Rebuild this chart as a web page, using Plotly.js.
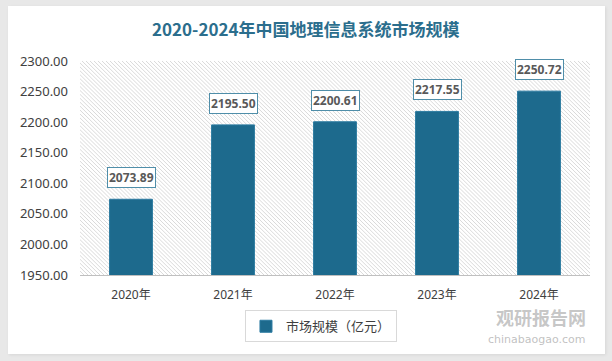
<!DOCTYPE html>
<html>
<head>
<meta charset="utf-8">
<script src="https://cdn.plot.ly/plotly-3.0.1.min.js"></script>
<style>html,body{margin:0;padding:0;background:#e8e8e8;width:612px;height:361px;overflow:hidden;}
#card{position:absolute;left:8px;top:6px;width:597px;height:348px;background:#fff;box-shadow:1px 1px 3px rgba(0,0,0,0.08);}
#chart{width:597px;height:348px;}</style>
</head>
<body>
<div id="card"><div id="chart"></div></div>
<script>
var categories = ['2020年', '2021年', '2022年', '2023年', '2024年'];
var values = [2073.89, 2195.50, 2200.61, 2217.55, 2250.72];
var labels = ['2073.89', '2195.50', '2200.61', '2217.55', '2250.72'];
var seriesName = '市场规模（亿元）';
var yTicks = [1950, 2000, 2050, 2100, 2150, 2200, 2250, 2300];
var yTickText = ['1950.00', '2000.00', '2050.00', '2100.00', '2150.00', '2200.00', '2250.00', '2300.00'];

var W = 510, H = 218;
var lines = '';
for (var k = -H; k < W + H; k += 4) {
  lines += '<line x1="' + k + '" y1="0" x2="' + (k + H) + '" y2="' + H + '" stroke="#dadada" stroke-width="1"/>';
}
var svg = '<svg xmlns="http://www.w3.org/2000/svg" width="' + W + '" height="' + H + '" viewBox="0 0 ' + W + ' ' + H + '" preserveAspectRatio="none"><rect width="' + W + '" height="' + H + '" fill="#ffffff"/>' + lines + '</svg>';
var hatch = 'data:image/svg+xml;charset=utf-8,' + encodeURIComponent(svg);

var trace = {
  type: 'bar',
  x: categories,
  y: values,
  name: seriesName,
  marker: {color: '#1d6a8d', line: {color: '#2a7aa0', width: 1}},
  width: 0.42,
  showlegend: true,
  hoverinfo: 'skip'
};

var annotations = categories.map(function (c, i) {
  return {
    x: c, y: values[i], xref: 'x', yref: 'y',
    text: '<b>' + labels[i] + '</b>',
    showarrow: false, yanchor: 'bottom', yshift: 11,
    font: {family: 'Noto Sans, sans-serif', size: 12, color: '#595959'},
    bgcolor: '#ffffff', bordercolor: '#4f8ea9', borderwidth: 1, borderpad: 1
  };
});

annotations.push({
  xref: 'paper', yref: 'paper', x: 0.443, y: 1, xanchor: 'center', yanchor: 'bottom', yshift: 18,
  text: '<b>2020-2024年中国地理信息系统市场规模</b>', showarrow: false,
  font: {family: 'Noto Sans CJK SC, sans-serif', size: 17, color: '#2b6e8d'}
});
annotations.push({
  xref: 'paper', yref: 'paper', x: 0.995, y: -0.198, xanchor: 'right', yanchor: 'middle',
  text: '<b>观研报告网</b>', showarrow: false, borderpad: 0,
  font: {family: 'Noto Sans CJK SC, sans-serif', size: 18, color: 'rgba(150,150,150,0.55)'}
});
annotations.push({
  xref: 'paper', yref: 'paper', x: 0.995, y: -0.3, xanchor: 'right', yanchor: 'middle',
  text: 'chinabaogao.com', showarrow: false, borderpad: 0,
  font: {family: 'DejaVu Sans, sans-serif', size: 11, color: 'rgba(150,150,150,0.6)'}
});

var layout = {
  width: 597, height: 348,
  margin: {l: 72, r: 15, t: 55, b: 75},
  paper_bgcolor: '#ffffff',
  plot_bgcolor: 'rgba(0,0,0,0)',
  bargap: 0.58,
  images: [{
    source: hatch, xref: 'paper', yref: 'paper', x: 0, y: 1, sizex: 1, sizey: 1,
    xanchor: 'left', yanchor: 'top', sizing: 'stretch', layer: 'below'
  }],
  xaxis: {
    type: 'category',
    showgrid: false, zeroline: false,
    showline: true, linecolor: '#bfbfbf', linewidth: 1,
    ticks: '', ticklabelstandoff: 9,
    tickfont: {family: 'Noto Sans, Noto Sans CJK SC, sans-serif', size: 12, color: '#404040'},
    fixedrange: true
  },
  yaxis: {
    range: [1950, 2300],
    tickvals: yTicks, ticktext: yTickText,
    showgrid: false, zeroline: false, showline: false,
    ticks: '', ticklabelstandoff: 11,
    tickfont: {family: 'Noto Sans, sans-serif', size: 13, color: '#404040'},
    fixedrange: true
  },
  legend: {
    orientation: 'h', x: 0.4725, xanchor: 'center', y: -0.165, yanchor: 'top',
    bgcolor: '#ffffff', bordercolor: '#d9d9d9', borderwidth: 1,
    font: {family: 'Noto Sans CJK SC, sans-serif', size: 13, color: '#404040'},
    itemwidth: 30
  },
  annotations: annotations
};

Plotly.newPlot('chart', [trace], layout, {displayModeBar: false, staticPlot: true});
</script>
</body>
</html>
